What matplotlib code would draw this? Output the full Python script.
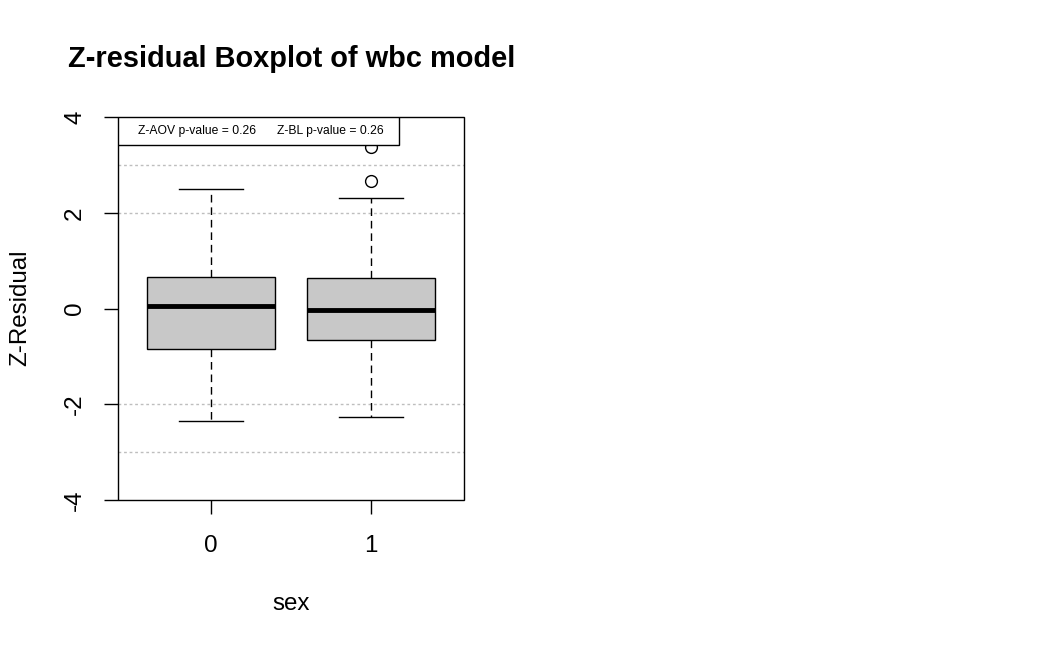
import matplotlib
matplotlib.use("Agg")
import matplotlib.pyplot as plt
from matplotlib.patches import Rectangle

plt.rcParams['font.family'] = ['Liberation Sans', 'DejaVu Sans']

# data
groups = ["0", "1"]
q1 = [-0.85, -0.66]
med = [0.05, -0.03]
q3 = [0.66, 0.64]
whis_lo = [-2.34, -2.26]
whis_hi = [2.49, 2.30]
fliers = [[], [2.66, 3.37]]
ref_lines = [-3, -2, 2, 3]
legend_texts = ["Z-AOV p-value = 0.26", "Z-BL p-value = 0.26"]

base = 17.4  # R cex = 1
W, H = 1050, 648
fig = plt.figure(figsize=(W / 100, H / 100), dpi=100)
ax = fig.add_axes([118 / W, 1 - 500 / H, 346 / W, 383 / H])

stats = []
for i in range(len(groups)):
    stats.append(dict(med=med[i], q1=q1[i], q3=q3[i],
                      whislo=whis_lo[i], whishi=whis_hi[i],
                      fliers=fliers[i], label=groups[i]))

pos = list(range(1, len(groups) + 1))
ax.bxp(stats, positions=pos, widths=0.8, patch_artist=True,
       boxprops=dict(facecolor='#C8C8C8', edgecolor='black', lw=1),
       medianprops=dict(color='black', lw=3.5, solid_capstyle='butt'),
       whiskerprops=dict(color='black', lw=1, linestyle=(0, (5.5, 3.5))),
       capprops=dict(color='black', lw=1),
       capwidths=0.4,
       flierprops=dict(marker='o', markerfacecolor='none',
                       markeredgecolor='black', markersize=8.5, mew=1))

for y in ref_lines:
    ax.axhline(y, color='#BEBEBE', lw=1, linestyle=(0, (2, 2)), zorder=0)

ax.set_xlim(0.42, 2.58)
ax.set_ylim(-4, 4)
ax.set_yticks([-4, -2, 0, 2, 4])
ax.set_yticklabels(['-4', '-2', '0', '2', '4'], rotation=90, va='center')
ax.set_xticks(pos)
ax.set_xticklabels(groups)
ax.tick_params(direction='out', length=10, width=1, labelsize=base)
ax.tick_params(axis='x', pad=15)
ax.tick_params(axis='y', pad=13)

# R-style box around the plot region
for s in ax.spines.values():
    s.set_visible(False)
ax.add_patch(Rectangle((0, 0), 1, 1, transform=ax.transAxes, fill=False,
                       edgecolor='black', lw=1, clip_on=False, zorder=5))

# legend box at top left
lw_frac = (399 - 118) / 346
lh_frac = 28 / 383
ax.add_patch(Rectangle((0, 1 - lh_frac), lw_frac, lh_frac, transform=ax.transAxes,
                       facecolor='white', edgecolor='black', lw=1, zorder=6))
ax.text((197 - 118) / 346, 1 - lh_frac / 2, legend_texts[0], transform=ax.transAxes,
        ha='center', va='center', fontsize=base * 0.5, zorder=7)
ax.text((330 - 118) / 346, 1 - lh_frac / 2, legend_texts[1], transform=ax.transAxes,
        ha='center', va='center', fontsize=base * 0.5, zorder=7)

fig.text(291 / W, 1 - 604 / H, "sex", fontsize=base, ha='center', va='center')
fig.text(20 / W, 1 - 308 / H, "Z-Residual", fontsize=base, rotation=90,
         ha='center', va='center')
fig.text(68 / W, 1 - 59 / H, "Z-residual Boxplot of wbc model", fontsize=base * 1.2,
         fontweight='bold', ha='left', va='center')

fig.savefig("out.png", dpi=100)
